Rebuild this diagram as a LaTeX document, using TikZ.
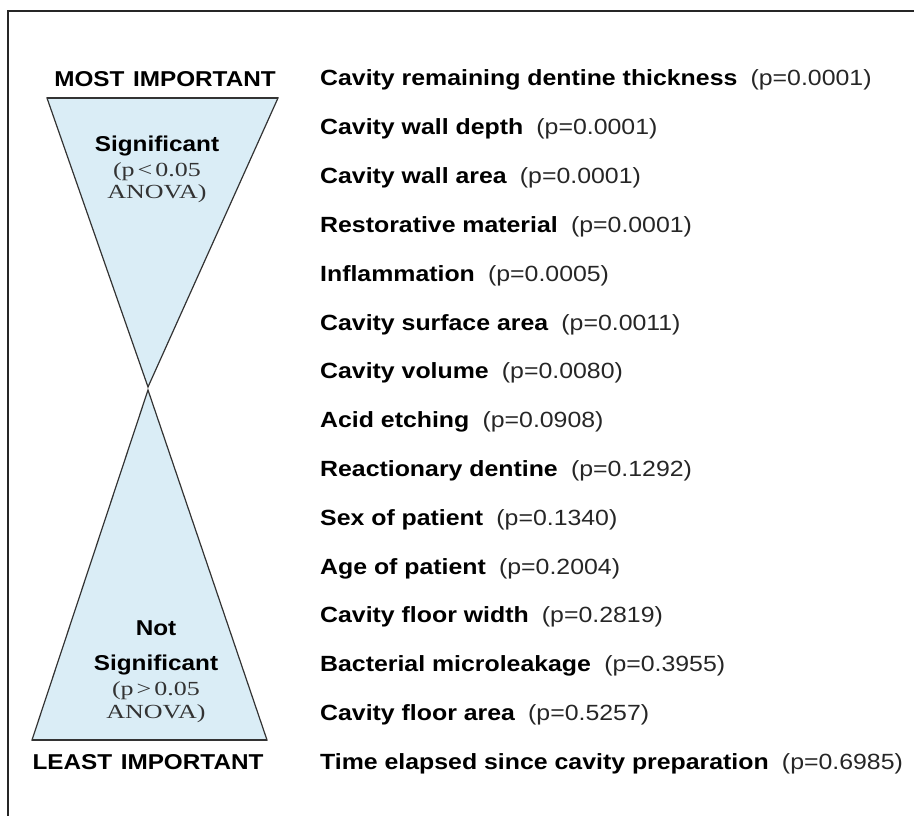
\documentclass[tikz,border=0pt]{standalone}
\usepackage{fontspec}
\setmainfont[FakeStretch=1.13]{Liberation Sans}
\newfontfamily\anovafont[FakeStretch=1.3]{Liberation Serif}
\definecolor{hourblue}{HTML}{DAEDF6}
\definecolor{edgegray}{HTML}{333333}
\tikzset{
  factor/.style={anchor=base west, inner sep=0pt, font=\fontsize{22}{26}\selectfont\bfseries},
  rank/.style={anchor=base, inner sep=0pt, font=\fontsize{21.5}{25}\selectfont\bfseries},
  signif/.style={anchor=base, inner sep=0pt, font=\fontsize{21.5}{25}\selectfont\bfseries},
  anova/.style={anchor=base, inner sep=0pt, font=\fontsize{20}{23}\selectfont\anovafont, text=edgegray},
  glass/.style={fill=hourblue, draw=edgegray, line width=1.2pt, line join=miter},
}
\begin{document}
\begin{tikzpicture}[x=1pt,y=-1pt]
\useasboundingbox (0,0) rectangle (914,816);

% frame
\coordinate (fr) at (914,11);
\coordinate (ftl) at (8,11);
\coordinate (fb) at (8,816);
\draw[line width=1.2pt, black!85] (fr) -- (ftl) -- (fb);

% upper triangle (significant)
\coordinate (ul) at (47,98);
\coordinate (ur) at (278,98);
\coordinate (ua) at (148,387);
\draw[glass] (ul) -- (ur) -- (ua) -- cycle;
\draw[line width=2.2pt, edgegray] (ul) -- (ur);

% lower triangle (not significant)
\coordinate (ll) at (32,740);
\coordinate (lr) at (267,740);
\coordinate (la) at (148,390);
\draw[glass] (ll) -- (lr) -- (la) -- cycle;
\draw[line width=2.2pt, edgegray] (ll) -- (lr);

\node[rank] (most) at (165,87) {MOST\hspace{0.4em}IMPORTANT};
\node[rank] (least) at (148,769) {LEAST\hspace{0.4em}IMPORTANT};

\node[signif] (sig) at (157,151) {Significant};
\node[anova] (sigp) at (157,176) {(p\hspace{0.15em}<\hspace{0.15em}0.05};
\node[anova] (siga) at (157,198) {ANOVA)};

\node[signif] (notsig1) at (156,635) {Not};
\node[signif] (notsig2) at (156,670) {Significant};
\node[anova] (notsigp) at (156,695) {(p\hspace{0.15em}>\hspace{0.15em}0.05};
\node[anova] (notsiga) at (156,718) {ANOVA)};

% factors, most to least important
\foreach \name/\pval [count=\i] in {
  Cavity remaining dentine thickness/0.0001,
  Cavity wall depth/0.0001,
  Cavity wall area/0.0001,
  Restorative material/0.0001,
  Inflammation/0.0005,
  Cavity surface area/0.0011,
  Cavity volume/0.0080,
  Acid etching/0.0908,
  Reactionary dentine/0.1292,
  Sex of patient/0.1340,
  Age of patient/0.2004,
  Cavity floor width/0.2819,
  Bacterial microleakage/0.3955,
  Cavity floor area/0.5257,
  Time elapsed since cavity preparation/0.6985}
  \node[factor] (f\i) at (320,{86+48.8*(\i-1)}) {\name\hspace{0.6em}{\mdseries\color{black!85}(p=\pval)}};

\end{tikzpicture}
\end{document}
